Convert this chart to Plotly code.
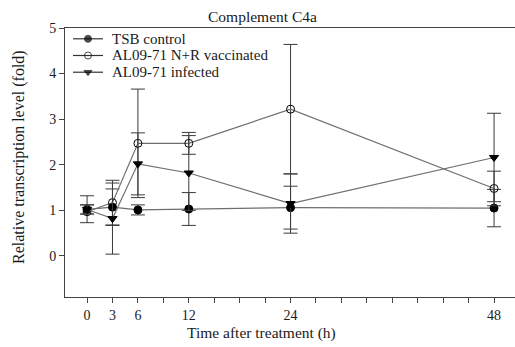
import plotly.graph_objects as go

hours = [0, 3, 6, 12, 24, 48]

tsb_mean = [1.02, 1.07, 1.01, 1.03, 1.06, 1.05]
tsb_err = [0.10, 0.40, 0.11, 0.36, 0.47, 0.41]

vac_mean = [0.97, 1.17, 2.47, 2.47, 3.22, 1.48]
vac_err_plus = [0.35, 0.49, 1.19, 0.24, 1.42, 0.38]
vac_err_minus = [0.24, 0.49, 1.19, 0.24, 1.42, 0.38]

inf_mean = [1.02, 0.82, 2.02, 1.82, 1.15, 2.16]
inf_err = [0.10, 0.78, 0.68, 0.82, 0.65, 0.97]

names = ["TSB control", "AL09-71 N+R vaccinated", "AL09-71 infected"]
symbols = ["circle", "circle-open", "triangle-down"]

x_tickvals = list(range(0, 49, 3))
x_labels_shown = [0, 3, 6, 12, 24, 48]
x_ticktext = [str(v) if v in x_labels_shown else "" for v in x_tickvals]

FONT = "Liberation Serif, Times New Roman, serif"
TXT_C = "#1a1a1a"
LINE_C = "#6e6e6e"
ERR_C = "#3a3a3a"
AX_C = "#444"

W, H = 515, 347
L, R, T, B = 65, 0, 28, 50
PW, PH = W - L - R, H - T - B


def px(xp, yp):
    return (xp - L) / PW, 1 - (yp - T) / PH


fig = go.Figure()

means = [tsb_mean, vac_mean, inf_mean]
errs = [
    dict(type="data", array=tsb_err, color=ERR_C, thickness=1, width=7),
    dict(type="data", symmetric=False, array=vac_err_plus, arrayminus=vac_err_minus,
         color=ERR_C, thickness=1, width=7),
    dict(type="data", array=inf_err, color=ERR_C, thickness=1, width=7),
]
for name, sym, m, e in zip(names, symbols, means, errs):
    fig.add_trace(go.Scatter(
        x=hours, y=m, name=name, mode="lines+markers", showlegend=False,
        line=dict(color=LINE_C, width=1.2),
        marker=dict(symbol=sym, size=8, color="black", line=dict(color="black", width=1)),
        error_y=e,
    ))

# custom legend key drawn on a pixel-space overlay axis
leg_rows = [38.8, 55.5, 72.2]
for name, sym, yrow in zip(names, symbols, leg_rows):
    fig.add_trace(go.Scatter(
        x=[73, 88, 103], y=[yrow] * 3, mode="lines+markers", showlegend=False,
        xaxis="x2", yaxis="y2", hoverinfo="skip",
        line=dict(color="#333", width=1.2),
        marker=dict(symbol=sym, size=[0, 7, 0], color="black", line=dict(color="black", width=1)),
    ))

annotations = []
tx, ty = px(262, 17)
annotations.append(dict(text="Complement C4a", x=tx, y=ty, xref="paper", yref="paper",
                        xanchor="center", yanchor="middle", showarrow=False,
                        font=dict(family=FONT, size=15.5, color=TXT_C)))
xx, xy = px(261, 333)
annotations.append(dict(text="Time after treatment (h)", x=xx, y=xy, xref="paper", yref="paper",
                        xanchor="center", yanchor="middle", showarrow=False,
                        font=dict(family=FONT, size=15.5, color=TXT_C)))
yx, yy = px(19, 157)
annotations.append(dict(text="Relative transcription level (fold)", x=yx, y=yy,
                        xref="paper", yref="paper", xanchor="center", yanchor="middle",
                        showarrow=False, textangle=-90,
                        font=dict(family=FONT, size=16, color=TXT_C)))
for name, yrow in zip(names, leg_rows):
    lx, ly = px(110, yrow)
    annotations.append(dict(
        text=name, x=lx, y=ly, xref="paper", yref="paper",
        xanchor="left", yanchor="middle", showarrow=False,
        font=dict(family=FONT, size=15, color=TXT_C)))

fig.update_layout(
    width=W, height=H,
    margin=dict(l=L, r=R, t=T, b=B),
    paper_bgcolor="white", plot_bgcolor="white",
    font=dict(family=FONT, size=13, color=TXT_C),
    showlegend=False,
    xaxis=dict(
        range=[-2.6, 50.47], tickmode="array", tickvals=x_tickvals, ticktext=x_ticktext,
        showgrid=False, zeroline=False, showline=True, linecolor=AX_C, linewidth=1,
        mirror=True, ticks="outside", ticklen=5, tickcolor=AX_C,
        tickfont=dict(family=FONT, size=14, color=TXT_C),
    ),
    yaxis=dict(
        range=[-0.9, 5.0], tickvals=[0, 1, 2, 3, 4, 5],
        showgrid=False, zeroline=False, showline=True, linecolor=AX_C, linewidth=1,
        ticks="outside", ticklen=5, tickcolor=AX_C,
        tickfont=dict(family=FONT, size=14, color=TXT_C),
    ),
    xaxis2=dict(overlaying="x", range=[L, W - R], visible=False, fixedrange=True),
    yaxis2=dict(overlaying="y", range=[H - B, T], visible=False, fixedrange=True),
    annotations=annotations,
)

fig.write_html("out.html")
